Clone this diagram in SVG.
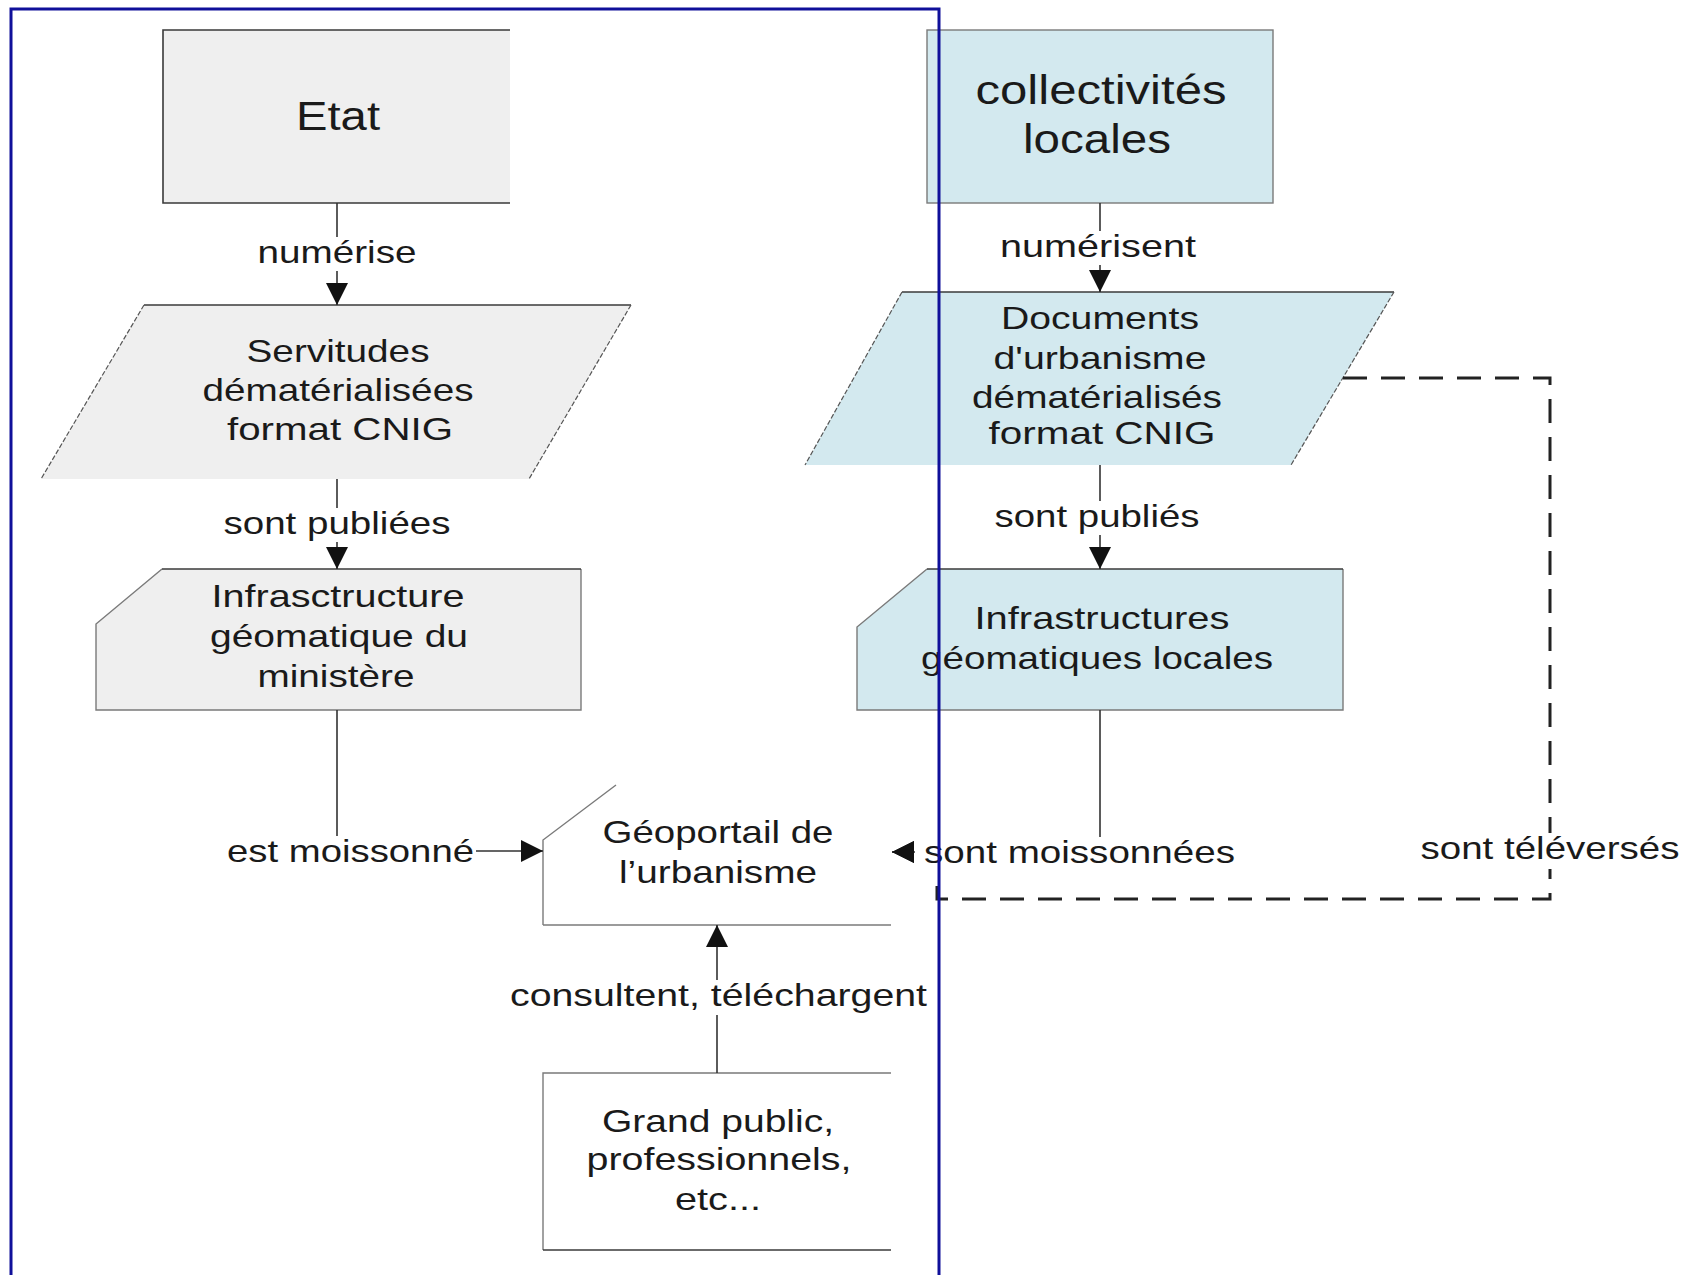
<svg xmlns="http://www.w3.org/2000/svg" width="1694" height="1275" viewBox="0 0 1694 1275">
<style>
.t{font-family:'Liberation Sans',Arial,sans-serif;font-size:32px;fill:#1a1a1a;text-anchor:middle}
.big{font-size:40px}
.gray{fill:#efefef}
.blue{fill:#d3e9ef}
.white{fill:#ffffff}
.edge{stroke:#3a3a3a;stroke-width:1.6;fill:none}
.soft{stroke:#7a7a7a;stroke-width:1.4;fill:none}
.slant{stroke:#555;stroke-width:1.2;stroke-dasharray:5 2;fill:none}
.conn{stroke:#333;stroke-width:1.6;fill:none}
.dash{stroke:#222;stroke-width:3;stroke-dasharray:24 14;fill:none}
.lbl{fill:#ffffff}
</style>
<defs>
<marker id="ah" viewBox="0 0 22 22" refX="22" refY="11" markerWidth="22" markerHeight="22" markerUnits="userSpaceOnUse" orient="auto">
<path d="M0,0 L22,11 L0,22 z" fill="#111"/>
</marker>
</defs>
<rect width="1694" height="1275" fill="#ffffff"/>

<g id="node-etat">
<rect x="163" y="30" width="347" height="173" class="gray"/>
<path d="M510 30 H163 V203 H510" class="edge"/>
<text class="t big" x="338" y="130" textLength="84" lengthAdjust="spacingAndGlyphs">Etat</text>
</g>

<g id="node-servitudes">
<polygon points="144,305 631,305 529,479 41,479" class="gray"/>
<path d="M144 305 H631" class="edge"/>
<path d="M144 305 L41 479 M631 305 L529 479" class="slant"/>
<text class="t" x="338" y="362" textLength="183" lengthAdjust="spacingAndGlyphs">Servitudes</text>
<text class="t" x="338" y="401" textLength="271" lengthAdjust="spacingAndGlyphs">dématérialisées</text>
<text class="t" x="340" y="440" textLength="226" lengthAdjust="spacingAndGlyphs">format CNIG</text>
</g>

<g id="node-infra-ministere">
<polygon points="162,569 581,569 581,710 96,710 96,624" class="gray"/>
<path d="M581 569 V710 H96 V624 L162 569" class="soft"/>
<path d="M162 569 H581" class="edge"/>
<text class="t" x="338" y="607" textLength="253" lengthAdjust="spacingAndGlyphs">Infrasctructure</text>
<text class="t" x="339" y="647" textLength="258" lengthAdjust="spacingAndGlyphs">géomatique du</text>
<text class="t" x="336" y="687" textLength="157" lengthAdjust="spacingAndGlyphs">ministère</text>
</g>

<g id="node-geoportail">
<polygon points="616,785 891,785 891,925 543,925 543,840" class="white"/>
<path d="M616 785 L543 840 V925" class="soft"/>
<path d="M543 925 H891" class="soft"/>
<text class="t" x="718" y="843" textLength="231" lengthAdjust="spacingAndGlyphs">Géoportail de</text>
<text class="t" x="718" y="883" textLength="198" lengthAdjust="spacingAndGlyphs">l’urbanisme</text>
</g>

<g id="node-grand-public">
<rect x="543" y="1073" width="348" height="177" class="white"/>
<path d="M891 1073 H543 V1250" class="soft"/>
<path d="M543 1250 H891" class="edge"/>
<text class="t" x="718" y="1132" textLength="232" lengthAdjust="spacingAndGlyphs">Grand public,</text>
<text class="t" x="719" y="1170" textLength="265" lengthAdjust="spacingAndGlyphs">professionnels,</text>
<text class="t" x="718" y="1210" textLength="86" lengthAdjust="spacingAndGlyphs">etc...</text>
</g>

<g id="node-collectivites">
<rect x="927" y="30" width="346" height="173" class="blue" stroke="#7a7a7a" stroke-width="1.4"/>
<text class="t big" x="1101" y="104" textLength="251" lengthAdjust="spacingAndGlyphs">collectivités</text>
<text class="t big" x="1097" y="153" textLength="148" lengthAdjust="spacingAndGlyphs">locales</text>
</g>

<g id="node-documents">
<polygon points="902,292 1394,292 1291,465 805,465" class="blue"/>
<path d="M902 292 H1394" class="edge"/>
<path d="M902 292 L805 465 M1394 292 L1291 465" class="slant"/>
<text class="t" x="1100" y="329" textLength="198" lengthAdjust="spacingAndGlyphs">Documents</text>
<text class="t" x="1100" y="369" textLength="213" lengthAdjust="spacingAndGlyphs">d'urbanisme</text>
<text class="t" x="1097" y="408" textLength="250" lengthAdjust="spacingAndGlyphs">dématérialisés</text>
<text class="t" x="1102" y="444" textLength="227" lengthAdjust="spacingAndGlyphs">format CNIG</text>
</g>

<g id="node-infra-locales">
<polygon points="927,569 1343,569 1343,710 857,710 857,627" class="blue"/>
<path d="M1343 569 V710 H857 V627 L927 569" class="soft"/>
<path d="M927 569 H1343" class="edge"/>
<text class="t" x="1102" y="629" textLength="255" lengthAdjust="spacingAndGlyphs">Infrastructures</text>
<text class="t" x="1097" y="669" textLength="352" lengthAdjust="spacingAndGlyphs">géomatiques locales</text>
</g>

<g id="connectors">
<path d="M337 203 V305" class="conn" marker-end="url(#ah)"/>
<path d="M337 479 V569" class="conn" marker-end="url(#ah)"/>
<path d="M337 710 V851 H543" class="conn" marker-end="url(#ah)"/>
<path d="M717 1073 V925" class="conn" marker-end="url(#ah)"/>
<path d="M1100 203 V292" class="conn" marker-end="url(#ah)"/>
<path d="M1100 465 V569" class="conn" marker-end="url(#ah)"/>
<path d="M1100 710 V852 H892" class="conn" marker-end="url(#ah)"/>
<path d="M1343 378 H1550 V899 H937 V868" class="dash"/>

<rect x="254" y="237" width="167" height="34" class="lbl"/>
<text class="t" x="337" y="263" textLength="159" lengthAdjust="spacingAndGlyphs">numérise</text>
<rect x="220" y="508" width="235" height="34" class="lbl"/>
<text class="t" x="337" y="534" textLength="227" lengthAdjust="spacingAndGlyphs">sont publiées</text>
<rect x="222" y="836" width="254" height="35" class="lbl"/>
<text class="t" x="350.5" y="862" textLength="247" lengthAdjust="spacingAndGlyphs">est moissonné</text>
<rect x="506" y="980" width="425" height="35" class="lbl"/>
<text class="t" x="718.5" y="1006" textLength="417" lengthAdjust="spacingAndGlyphs">consultent, téléchargent</text>
<rect x="996" y="231" width="204" height="34" class="lbl"/>
<text class="t" x="1098" y="257" textLength="196" lengthAdjust="spacingAndGlyphs">numérisent</text>
<rect x="990" y="501" width="213" height="34" class="lbl"/>
<text class="t" x="1097" y="527" textLength="205" lengthAdjust="spacingAndGlyphs">sont publiés</text>
<rect x="915" y="837" width="324" height="36" class="lbl"/>
<text class="t" x="1079.5" y="863" textLength="311" lengthAdjust="spacingAndGlyphs">sont moissonnées</text>
<path d="M914 852 H892" class="conn" marker-end="url(#ah)"/>
<rect x="1416" y="833" width="267" height="36" class="lbl"/>
<text class="t" x="1550" y="859" textLength="259" lengthAdjust="spacingAndGlyphs">sont téléversés</text>
</g>

<rect x="11" y="9" width="928" height="1300" fill="none" stroke="#10109a" stroke-width="3"/>
</svg>
